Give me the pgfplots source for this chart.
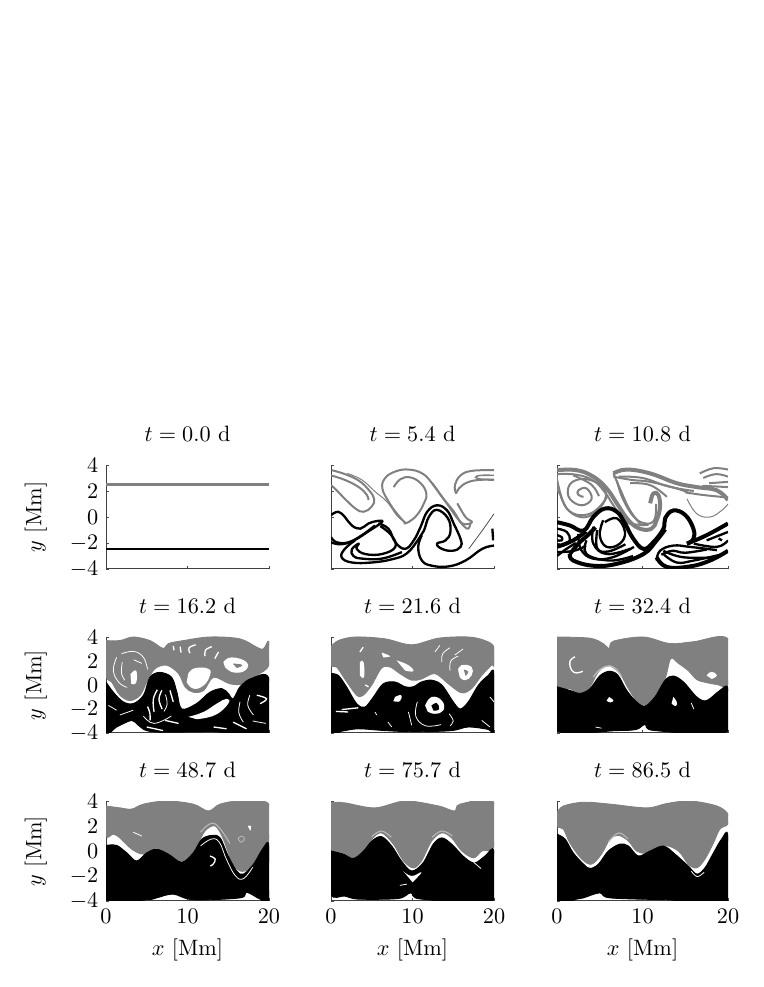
\documentclass[border=0pt]{standalone}
\usepackage{pgfplots}
\pgfplotsset{compat=1.18}
\definecolor{G}{gray}{0.5}
\definecolor{LG}{gray}{0.72}
\pgfplotsset{
  pan/.style={scale only axis,anchor=south west,axis lines=left,axis line style={-,black!75,line width=0.45pt},
    xmin=0,xmax=20,ymin=-4,ymax=4,xtick={0,10,20},ytick={-4,-2,0,2,4},
    tick style={black!70,line width=0.3pt},major tick length=1.3pt,tick align=inside,
    title style={at={(0.5,1)},anchor=base,yshift=4.5pt},
    every axis y label/.style={at={(axis description cs:-0.43,0.5)},anchor=center,rotate=90},
    every axis x label/.style={at={(axis description cs:0.5,-0.49)},anchor=center},
    xtick pos=bottom,ytick pos=left},
  noy/.style={yticklabels={}},nox/.style={xticklabels={}},
  gl/.style={G,line width=0.9pt,smooth,tension=0.7,line join=round},
  gb/.style={G,line width=1.8pt,smooth,tension=0.7,line join=round},
  kl/.style={black,line width=1.05pt,smooth,tension=0.7,line join=round},
  kb/.style={black,line width=1.8pt,smooth,tension=0.7,line join=round},
  gf/.style={fill=G,draw=G,line width=0.4pt,smooth,tension=0.55},
  kf/.style={fill=black,draw=black,line width=0.4pt,smooth,tension=0.55},
  wf/.style={fill=white,draw=none,smooth,tension=0.8},
  wl/.style={white,line width=0.6pt,smooth,tension=0.7},
  wt/.style={white,line width=0.35pt,smooth,tension=0.7},
}
\begin{document}
\begin{tikzpicture}
\path[use as bounding box] (0,0) rectangle (343.35pt,444.15pt);

% ---------- t=0.0
\begin{axis}[pan,nox,at={(47.7pt,188.1pt)},width=73.35pt,height=46.8pt,title={$t=0.0$ d},ylabel={$y$ [Mm]}]
\addplot[G,line width=1.0pt] coordinates {(0,2.5) (20,2.5)};
\addplot[black,line width=1.2pt] coordinates {(0,-2.45) (20,-2.45)};
\end{axis}

% ---------- t=5.4
\begin{axis}[pan,nox,noy,at={(148.95pt,188.1pt)},width=73.35pt,height=46.8pt,title={$t=5.4$ d}]
\addplot[gl] coordinates {(0.1,3.6) (1.7,3.3) (3.4,2.8) (4.6,2.1) (5.3,1.4) (5,0.8) (4,0.4) (3,0.65) (1.7,1.4) (0.7,2.05) (0,2.45)};
\addplot[gl] coordinates {(0,3.2) (1.7,2.85) (3.4,2.3) (4.4,1.7) (4.6,1.3)};
\addplot[G,line width=0.45pt,smooth,tension=0.7] coordinates {(2,3.35) (3.8,2.85) (5.4,1.95) (6.9,1.15) (8.1,0.1) (9.1,-0.4)};
\addplot[gl] coordinates {(9.1,-0.45) (8.1,0.25) (7.1,1.15) (6.3,2.2) (6.65,3) (7.9,3.5) (9.5,3.65) (11.2,3.35) (12.4,2.6) (13.8,1.4) (15.1,0.4) (16.1,-0.5) (17.3,-0.4) (16.5,0) (15.5,1.05)};
\addplot[gl] coordinates {(7.7,2.3) (8.5,2.9) (9.7,3.05) (11,2.6) (11.7,1.8) (11.4,1.05) (10.55,0.15) (9.5,-0.4) (8.9,-0.5)};
\addplot[gl] coordinates {(12.4,2.6) (14.2,1.05) (15.5,-0.1) (16.7,-0.9) (17.1,-0.5)};
\addplot[gl] coordinates {(20,3.6) (17.3,3.55) (15.9,3.2) (15.2,2.45) (15.35,1.8)};
\addplot[gl] coordinates {(20,2.85) (18.15,2.85) (16.7,2.65) (15.7,2.2) (15.35,1.8)};
\addplot[G,line width=0.7pt,smooth,tension=0.7] coordinates {(20,3.2) (18.35,3.2) (17.75,3.05) (18.55,2.9) (20,2.9)};
\addplot[kl] coordinates {(0,0.15) (0.9,0.4) (1.7,0) (2.55,-0.65) (3.6,-0.9) (4.6,-0.5) (5.8,-0.3) (6.25,-0.4) (4.6,-1.1) (2.95,-1.75) (1.3,-2.1) (0,-1.95)};
\addplot[kl] coordinates {(0,-1.55) (0.7,-1.95) (2.15,-1.95) (3.8,-1.4) (5.4,-0.65)};
\addplot[kl] coordinates {(5.8,-0.5) (7.05,-0.9) (7.9,-1.95) (9.1,-2.45) (10.15,-1.8) (11,-0.75) (11.8,0.4) (13,0.9) (14.25,0.5) (15.05,-0.5) (15.9,-1.7) (15.9,-2.3) (14.9,-2.6) (13.6,-2.45) (13,-2.05) (14.05,-1.8) (14.65,-1.15) (14.35,-0.1) (13,0.55) (12,0) (11.4,-1.05) (10.75,-1.7) (9.3,-2.8) (7.5,-3.25) (5,-3.5) (2.55,-3.5) (1.3,-3.1) (1.7,-2.45) (2.95,-1.8)};
\addplot[kl] coordinates {(6.05,-0.7) (7.4,-1.4) (7.9,-2.3) (6.25,-2.85) (4.2,-2.85) (3.15,-2.45) (3.4,-2.05) (2.55,-2.5) (2.75,-3) (3.8,-3.2) (6.25,-3.2) (8.7,-2.7)};
\addplot[kl] coordinates {(11.15,-1.4) (10.7,-2.3) (11.15,-3.35) (12.4,-3.75) (14.45,-3.8) (16.5,-3.35) (18.55,-2.45) (20,-2.2)};
\addplot[black!70,line width=0.35pt,smooth,tension=0.7] coordinates {(16.9,-2.45) (18.55,-1.05) (20,0.25)};
\addplot[kl] coordinates {(19.8,-0.9) (19.9,-1.8)};
\end{axis}

% ---------- t=10.8
\begin{axis}[pan,nox,noy,at={(250.65pt,188.1pt)},width=76.95pt,height=46.8pt,title={$t=10.8$ d}]
\addplot[gb] coordinates {(0,3.6) (2.3,3.6) (4.25,3.1) (5.8,2.2) (7,1.05) (8.35,-0.25) (9.7,-0.9) (11.05,-0.9) (11.65,-0.25) (12.05,0.75) (11.85,1.7) (11.25,1.8) (10.9,1.05)};
\addplot[gl] coordinates {(0.35,1.8) (1.15,0.65) (2.7,0) (4.25,0.25) (5.6,1.3) (5.4,2.3) (3.85,2.85) (2.3,2.85) (1.35,2.3) (1.5,1.4) (2.9,0.9) (4.05,1.4) (3.45,2.2) (2.5,2.05) (2.5,1.7) (3.1,1.55)};
\addplot[gl] coordinates {(0,3.2) (0,2.2) (0.35,1.8)};
\addplot[gl] coordinates {(0,3.3) (2.3,3.25) (4.25,2.8) (5.6,1.9) (6.6,0.9) (8,-0.35) (9.7,-0.6) (10.7,-0.6)};
\addplot[gl] coordinates {(0,2.9) (0.7,1.2) (1.8,0.3) (3.6,0.2) (5,0.8) (5.9,1.6)};
\addplot[gl] coordinates {(1.9,3.2) (4,2.5) (4.9,1.6)};
\addplot[gb] coordinates {(6.6,3.35) (8.15,3.65) (10.9,3.35) (14,2.6) (16.35,2.3) (18.7,2.05) (20,1.3)};
\addplot[gl] coordinates {(6.6,3.1) (8.75,2.85) (10.9,2.7) (14,2.2) (15.55,1.8)};
\addplot[gl] coordinates {(6.6,3.35) (7.35,2.2) (8.55,0.5) (9.9,-0.65)};
\addplot[gl] coordinates {(7,2.8) (7.7,1.4) (9,0) (10.4,-0.5) (11.4,-0.2) (11.6,1)};
\addplot[gl] coordinates {(7.2,3.1) (10,3) (13,2.35) (16,2)};
\addplot[gl] coordinates {(8.55,2.6) (10.9,2.45) (12.85,1.55)};
\addplot[gl] coordinates {(16.7,3.35) (18.3,3.75) (20,3.65)};
\addplot[gl] coordinates {(17.1,3) (18.6,3.3) (20,3.1)};
\addplot[gl] coordinates {(17.8,2.6) (20,2.7)};
\addplot[gl] coordinates {(17,2.4) (20,2.3)};
\addplot[G,line width=0.45pt,smooth,tension=0.7] coordinates {(15.2,1.4) (16.35,0.25) (17.9,0) (19.25,0.5) (20,1)};
\addplot[gl] coordinates {(15,1.9) (17,1.7) (20,1.5)};
\addplot[kb] coordinates {(0,-0.4) (1.5,-0.65) (3.1,-1.05) (4.25,0) (5.6,0.65) (7,0.4) (7.95,-0.5) (8.9,-1.65) (10.1,-2.45) (11.25,-1.95) (12.45,-0.9) (12.65,-0.1) (13.6,0.5) (15,0.15) (15.95,-0.9) (15.95,-1.7) (15.2,-2.05)};
\addplot[kb] coordinates {(0,-2.3) (1.9,-1.8) (3.4,-1.1)};
\addplot[kb] coordinates {(1.5,-2.85) (2.5,-2.05) (3.6,-1.4) (4.5,-0.8)};
\addplot[kb] coordinates {(1.5,-2.85) (1.9,-3.35) (4.25,-3.75) (7,-3.6) (10.1,-2.85) (11.65,-1.8) (12.65,-0.95)};
\addplot[kl] coordinates {(5.4,-0.25) (5,-1.4) (5.8,-2.3) (7.35,-2.05) (7.95,-1.15) (7,-0.1) (5.6,-0.4)};
\addplot[kl] coordinates {(4.25,-0.75) (4.25,-2.05) (5.8,-2.85) (8.55,-2.45)};
\addplot[kl] coordinates {(3.45,-1.8) (3.45,-2.85) (6.2,-3.35) (8.9,-3)};
\addplot[kl] coordinates {(2.5,-1.3) (2.8,-2.5) (4.2,-3.2) (6.5,-3.1) (9,-2.3)};
\addplot[kl] coordinates {(4.7,-1) (4.7,-2.4) (6,-2.65) (8,-2.1)};
\addplot[kl] coordinates {(0,-0.9) (1.15,-1.15) (1.5,-1.8) (0.75,-2.2) (0,-2.1)};
\addplot[kl] coordinates {(0,-1.4) (0.55,-1.55) (0.55,-1.8) (0,-1.8)};
\addplot[kl] coordinates {(0,-2.7) (2,-2.6) (3.4,-2.2)};
\addplot[kl] coordinates {(0,-3) (1,-2.5) (2.2,-2)};
\addplot[kl] coordinates {(11.65,-3.35) (12.05,-2.6) (13.6,-2.2) (15.55,-2.3) (18.7,-2.55)};
\addplot[kb] coordinates {(11.65,-3.1) (12.85,-3.85) (15.55,-3.8) (17.9,-3.35) (20,-2.6)};
\addplot[kl] coordinates {(12.45,-2.85) (14,-3.5) (16,-3.35) (19.45,-2.85)};
\addplot[kl] coordinates {(12.45,-2.6) (14.8,-3.1) (18.7,-3.1)};
\addplot[kl] coordinates {(12.2,-2.9) (13.5,-2.6) (15,-2.75) (17.5,-2.5)};
\addplot[kb] coordinates {(15.2,-2.05) (17.5,-1.4) (20,-0.5)};
\addplot[kl] coordinates {(16,-2.05) (18.7,-2.3) (20,-1.8)};
\addplot[kl] coordinates {(17.5,-1.8) (20,-1.15)};
\addplot[kl] coordinates {(18.9,-1.65) (19.3,-1.8)};
\end{axis}

% ---------- t=16.2
\begin{axis}[pan,nox,at={(47.7pt,114.3pt)},width=73.35pt,height=43.2pt,title={$t=16.2$ d},ylabel={$y$ [Mm]}]
\addplot[gf] coordinates {(0,3.7) (1.7,3.7) (3.35,4) (5.4,3.7) (7,3.05) (7.65,3.45) (9.5,3.7) (12.75,4) (16.4,3.85) (18.5,3.15) (19.3,3) (20,3.65) (20,1.65) (18.5,0.8) (16.9,0.1) (15.2,0.1) (13.2,0.65) (12,-0.45) (10.7,-0.6) (9.7,-0.15) (8.9,0.95) (7.45,1.65) (6,1.35) (5,0.25) (4.2,-0.85) (2.95,-1.3) (1.7,-0.85) (0.7,0.25) (0,0.8) (0,3.7)};
\addplot[wf] coordinates {(10.1,0.95) (10.9,1.4) (12.55,1.35) (12.75,0.8) (11.95,-0.05) (10.7,-0.3) (9.9,0.25)};
\addplot[wf] coordinates {(14.4,1.9) (15.4,2.3) (17.25,1.9) (17.05,1.2) (15.6,1.05) (14.6,1.5)};
\addplot[G,fill=G,smooth,tension=0.8] coordinates {(15.6,1.75) (16.65,1.65) (16,1.45)};
\addplot[wf] coordinates {(3,0.9) (3.7,1.2) (3.7,0.2) (3.1,0.1)};
\addplot[wl] coordinates {(8.25,3.25) (8.35,2.9)};
\addplot[wl] coordinates {(9.1,3.2) (9.2,2.7)};
\addplot[wl] coordinates {(11,3.35) (10.2,3.1) (10.3,2.65)};
\addplot[wl] coordinates {(13,3.2) (12.2,2.9) (12.15,2.4)};
\addplot[wl] coordinates {(13.8,2.75) (13.35,2.2)};
\addplot[wt] coordinates {(1.3,2.3) (0.9,1.2) (1.6,0.2) (2.6,-0.2)};
\addplot[wt] coordinates {(1.9,2.6) (3.4,2.8) (4.6,2.3) (5.1,1.3)};
\addplot[wt] coordinates {(2,1.9) (1.9,1) (2.3,0.4)};
\addplot[wt] coordinates {(3.4,2.1) (4.4,1.8)};
\addplot[kf] coordinates {(0,0.25) (0.9,-0.6) (2.1,-1.4) (3.35,-1.55) (4.6,-0.85) (5.4,0.65) (6.6,1.05) (8.05,0.65) (8.7,-0.6) (9.3,-2) (11.1,-1.55) (12.75,-0.6) (14.2,-0.3) (15,-0.7) (15.6,-1.15) (16.45,-0.15) (17.85,0.55) (20,0.55) (20,-4) (13.2,-3.9) (5.8,-3.9) (3.95,-3.35) (3.15,-2.95) (1.3,-3.5) (0,-3.9) (0,0.25)};
\addplot[wf] coordinates {(10.1,-2.65) (11.95,-2.25) (13.6,-1.55) (14.8,-1.15) (15,-1.55) (13.4,-2.5) (11.1,-2.85)};
\addplot[wl] coordinates {(6.3,-0.4) (5.8,-1.2) (5.9,-2.25)};
\addplot[wl] coordinates {(6.85,-0.45) (6.5,-1.2) (6.9,-2)};
\addplot[wl] coordinates {(7.85,-0.45) (8.25,-1.4)};
\addplot[wt] coordinates {(7.3,-0.8) (7.5,-1.6) (7.1,-2.2)};
\addplot[wl] coordinates {(5.1,-1.8) (5.4,-2.4) (5.4,-2.95)};
\addplot[wl] coordinates {(7.25,-2.95) (8.9,-3.2)};
\addplot[wl] coordinates {(5,-3.5) (7,-3.8)};
\addplot[wt] coordinates {(4.6,-2.6) (5.9,-3.2) (8,-2.6)};
\addplot[wl] coordinates {(18.5,-0.85) (19.7,-1.15) (18.9,-1.55)};
\addplot[wt] coordinates {(17.65,-0.85) (17.4,-1.7) (18.1,-2.5)};
\addplot[wt] coordinates {(16.45,-1.4) (16.3,-2.3) (16.85,-3.1)};
\addplot[wl] coordinates {(13.2,-3.5) (14.8,-3.65)};
\addplot[wl] coordinates {(15.6,-3.1) (17.25,-3.65)};
\addplot[wt] coordinates {(18,-3) (19.6,-3.2)};
\addplot[wt] coordinates {(0.3,-1.7) (0.8,-1.9) (1.3,-2.1)};
\addplot[wt] coordinates {(1.7,-2.5) (3.35,-2.1)};
\end{axis}

% ---------- t=21.6
\begin{axis}[pan,nox,noy,at={(148.95pt,114.3pt)},width=73.35pt,height=43.2pt,title={$t=21.6$ d}]
\addplot[gf] coordinates {(0,3.2) (0.9,3.7) (2.95,4) (6.6,3.85) (9.9,3.35) (13.2,3.9) (16.85,4) (18.9,3.7) (20,3.15) (20,1.65) (19.7,1.65) (18.5,0.8) (17.25,-0.3) (16,-0.65) (14.4,0.1) (12.75,0.95) (11.1,0.5) (9.9,0.4) (8.45,0.95) (7.25,1.5) (6.2,1.4) (5,0) (3.95,-0.85) (3.15,-0.85) (1.7,0.5) (0.7,1.5) (0,1.65) (0,3.2)};
\addplot[wf] coordinates {(6.2,2.7) (7.25,2.4) (6.4,2.3)};
\addplot[wf] coordinates {(3.55,1.9) (4,1.9) (4.05,0.65) (3.55,0.8)};
\addplot[wf] coordinates {(8.05,2.05) (9.5,1.65) (10.1,1.15) (9.1,1.2)};
\addplot[wf] coordinates {(15.6,1.25) (16,1.65) (17.25,1.5) (17.25,0.8) (16.45,0.4) (15.8,0.65)};
\addplot[G,fill=G,smooth,tension=0.8] coordinates {(16.3,1.25) (16.8,1.1) (16.5,0.8)};
\addplot[wt] coordinates {(12.75,2.75) (13.35,3.3)};
\addplot[wt] coordinates {(13.6,1.9) (13.7,2.6) (14.6,3.1)};
\addplot[wt] coordinates {(15.2,2.5) (16.2,3)};
\addplot[wt] coordinates {(14.6,1.2) (14.7,2) (15.6,2.4)};
\addplot[wl] coordinates {(3.95,3.15) (3.55,2.75)};
\addplot[wl] coordinates {(4.2,0) (4.6,-0.15)};
\addplot[kf] coordinates {(0,0.95) (0.9,0.8) (1.9,-0.15) (3.15,-1.55) (4.15,-1.85) (5.2,-1) (6.4,0.1) (7.85,0.25) (9.1,-0.15) (10.1,-0.15) (11.1,0.25) (12.35,0.4) (13.6,0) (15,-1.4) (15.85,-2) (16.85,-1.4) (18.1,0) (19.3,0.8) (20,0.95) (20,-3.85) (19.3,-3.7) (16.85,-3.5) (14.8,-3.8) (10.3,-3.9) (6.6,-3.8) (3.35,-3.65) (1.3,-3.85) (0,-3.9) (0,0.95)};
\addplot[wf] coordinates {(7.85,-1) (8.6,-0.85) (8.45,-1.35) (7.65,-1.35)};
\addplot[wf] coordinates {(11.55,-1.7) (12.35,-1) (13.6,-1.3) (13.8,-2.1) (12.75,-2.4) (11.85,-2.2)};
\addplot[black,fill=black,smooth,tension=0.8] coordinates {(12.35,-1.75) (12.95,-1.55) (13.2,-2) (12.55,-2.1)};
\addplot[wl] coordinates {(1.3,-2.05) (3.35,-1.9)};
\addplot[wl] coordinates {(0.6,-2.2) (2.1,-2.25)};
\addplot[wt] coordinates {(9.5,-2.25) (9.9,-3.35)};
\addplot[wt] coordinates {(7,-3.1) (7.45,-3.5)};
\addplot[wt] coordinates {(5.4,-2.25) (5.6,-2.5)};
\addplot[wt] coordinates {(18.5,-2.95) (19.5,-3.5)};
\addplot[wt] coordinates {(19.5,-1) (20,-1.4)};
\addplot[wt] coordinates {(10.6,-1.4) (10.4,-2.6) (11.6,-3.4) (13.5,-3.3)};
\addplot[wt] coordinates {(14.5,-2.4) (15,-3) (14.6,-3.4)};
\end{axis}

% ---------- t=32.4
\begin{axis}[pan,nox,noy,at={(250.65pt,114.3pt)},width=76.95pt,height=43.2pt,title={$t=32.4$ d}]
\addplot[gf] coordinates {(0,4) (3.85,3.9) (5.4,3.45) (6.1,3.05) (6.6,3.65) (10.1,4) (13.2,3.45) (15.95,3.6) (20,3.85) (20,0.1) (18.7,0.05) (17.5,0.2) (16.35,0.45) (15.35,1.2) (14.2,1.8) (13.3,2.2) (12.65,0.55) (11.45,-1) (10.3,-1.65) (9.3,-1.3) (8.35,-0.3) (7.35,0.95) (6,1.65) (4.85,1.1) (3.85,-0.15) (2.7,-0.7) (1.5,-0.3) (0,0.1) (0,4)};
\addplot[wl] coordinates {(2.1,2.35) (1.5,1.95) (1.7,1.25) (2.3,1) (3,1.15)};
\addplot[wf] coordinates {(17.5,0.8) (18.1,1.1) (18.7,0.8) (18.1,0.5)};
\addplot[LG,line width=0.6pt,smooth,tension=0.7] coordinates {(4.25,0.65) (5.05,1.3) (6.2,1.6) (7.15,1.15) (7.55,0.65)};
\addplot[kf] coordinates {(0,-0.15) (1.5,-0.45) (2.7,-0.7) (3.85,-0.3) (5.05,0.8) (6.2,1.15) (7.15,0.8) (8.15,-0.45) (9.3,-1.4) (10.3,-1.75) (11.45,-1) (12.65,0.4) (13.6,0.75) (14.8,0.25) (16.35,-1) (17.5,-1.3) (19.05,-0.45) (20,-0.3) (20,-3.85) (11.45,-3.8) (10.3,-3.3) (9.3,-3.7) (7,-3.8) (0,-3.8) (0,-0.15)};
\addplot[wf] coordinates {(6.1,-1) (6.6,-1.3) (6.2,-1.45) (5.8,-1.3)};
\addplot[wf] coordinates {(13.6,-1) (14,-1.4) (13.9,-1.75) (13.4,-1.55)};
\addplot[wt] coordinates {(4.5,-3.5) (5.2,-3.6)};
\addplot[wt] coordinates {(15.7,-1.5) (16,-2)};
\end{axis}

% ---------- t=48.7
\begin{axis}[pan,at={(47.7pt,38.7pt)},width=73.35pt,height=45pt,title={$t=48.7$ d},ylabel={$y$ [Mm]},xlabel={$x$ [Mm]}]
\addplot[gf] coordinates {(0,3.6) (1.7,3.45) (3.15,3.35) (4.6,3.75) (7.45,4) (10.7,3.75) (12.55,3.2) (14,3.75) (16.45,4) (20,3.75) (20,0.95) (18.9,-0.15) (17.7,-1.35) (16.45,-1.6) (15.4,-0.8) (14.4,0.95) (13.4,2) (12.15,1.6) (10.9,0.15) (9.5,-0.8) (8.05,-0.4) (6.2,0.25) (4.6,-0.25) (3.15,0.15) (1.7,1.05) (0.9,1.35) (0,1.2) (0,3.6)};
\addplot[wt] coordinates {(3.35,1.5) (4.4,1.2)};
\addplot[LG,line width=0.4pt,smooth,tension=0.7] coordinates {(16.2,1) (16.6,0.7) (17,1) (16.6,1.2) (16.2,1)};
\addplot[wf] coordinates {(17.4,2) (17.8,2) (17.7,1.6)};
\addplot[LG,line width=0.5pt,smooth,tension=0.7] coordinates {(11.6,1.5) (13.3,2.2) (15.2,0.6)};
\addplot[kf] coordinates {(0,0.45) (1.3,0.45) (2.55,-0.15) (3.75,-0.8) (5,-0.15) (6.2,0.15) (7.65,-0.25) (9.3,-0.9) (10.7,-0.15) (11.75,0.95) (13,1.25) (14,1.05) (15,-0.4) (16.05,-1.6) (16.85,-1.85) (18.1,-1.05) (19.3,0.25) (20,0.4) (20,-4) (18.9,-3.85) (17.25,-3.3) (16.45,-3.75) (10.7,-3.9) (8.25,-3.45) (6.2,-3.75) (5,-3.9) (0,-3.9) (0,0.45)};
\addplot[wt] coordinates {(11.6,0.4) (12.9,0.95) (13.9,0.7) (14.8,-0.7) (15.9,-2) (16.9,-2.2) (18,-1.3)};
\addplot[wl] coordinates {(12.75,-0.4) (13.4,-0.65) (13.15,-1.05) (12.8,-1.2)};
\end{axis}

% ---------- t=75.7
\begin{axis}[pan,noy,at={(148.95pt,38.7pt)},width=73.35pt,height=45pt,title={$t=75.7$ d},xlabel={$x$ [Mm]}]
\addplot[gf] coordinates {(0,3.9) (1.7,3.85) (5.4,3.45) (9.1,4) (13.2,3.6) (15.15,3.2) (15.85,3.75) (20,3.9) (20,0.4) (18.5,0) (17.5,-0.55) (16.05,0) (14.8,1.05) (13.6,1.45) (12.35,0.8) (11.1,-0.8) (10.1,-1.35) (8.9,-0.8) (7.65,0.55) (6.2,1.45) (5,0.95) (3.75,-0.15) (2.75,-0.55) (1.3,-0.15) (0,0.25) (0,3.9)};
\addplot[LG,line width=0.5pt,smooth,tension=0.7] coordinates {(5,1.15) (6.2,1.6) (7.4,1.1)};
\addplot[LG,line width=0.5pt,smooth,tension=0.7] coordinates {(12.4,1.1) (13.6,1.6) (14.9,1.2)};
\addplot[kf] coordinates {(0,0) (1.5,-0.25) (2.75,-0.6) (4,0) (5,0.8) (6.2,1.15) (7.45,0.4) (8.65,-0.8) (9.9,-1.6) (11.3,-0.95) (12.55,0.55) (13.6,1.05) (14.8,0.55) (16.45,-0.55) (17.65,-0.95) (18.9,-0.4) (20,0) (20,-3.9) (11.1,-3.85) (9.8,-3.35) (8.25,-3.8) (3.35,-3.85) (1.7,-3.6) (0,-3.45) (0,0)};
\addplot[wf] coordinates {(8.85,-1.6) (9.9,-2) (11.1,-1.7) (10,-2.5)};
\addplot[wt] coordinates {(8.45,-2.75) (9.3,-2.65)};
\addplot[wt] coordinates {(17.5,-0.9) (18.4,-1.4)};
\end{axis}

% ---------- t=86.5
\begin{axis}[pan,noy,at={(250.65pt,38.7pt)},width=76.95pt,height=45pt,title={$t=86.5$ d},xlabel={$x$ [Mm]}]
\addplot[gf] coordinates {(0,3.05) (0.75,3.6) (3.1,3.9) (6.2,3.75) (10.5,3.45) (12.85,3.8) (15.55,4) (18.7,3.6) (20,2.95) (20,2.15) (19.05,1.75) (18.3,0.65) (17.3,-0.65) (16.35,-1.35) (15.35,-1.05) (14.2,0) (12.45,0.45) (10.5,-0.15) (9.3,0) (8.35,0.8) (7.2,1.25) (6.2,0.95) (5.2,-0.25) (4.05,-1.05) (2.9,-0.65) (1.5,0.65) (0.75,1.75) (0,2) (0,3.05)};
\addplot[LG,line width=0.5pt,smooth,tension=0.7] coordinates {(6,0.7) (7.2,1.45) (8.3,0.95)};
\addplot[kf] coordinates {(0,1.35) (0.95,0.95) (1.9,-0.15) (3.1,-1.05) (3.85,-1.4) (4.85,-1.05) (6,0) (7.35,0.55) (8.35,0.4) (9.5,-0.4) (10.9,0) (12.45,0.4) (13.8,-0.25) (15.35,-1.2) (16.35,-1.85) (17.3,-1.35) (18.3,-0.15) (19.25,0.95) (20,1.2) (20,-4) (12.85,-3.9) (6.2,-3.75) (5,-3.35) (3.1,-3.75) (2.3,-3.85) (0,-3.9) (0,1.35)};
\addplot[wt] coordinates {(15.7,-1.6) (16.4,-2.05) (17.2,-1.7)};
\end{axis}
\end{tikzpicture}
\end{document}
